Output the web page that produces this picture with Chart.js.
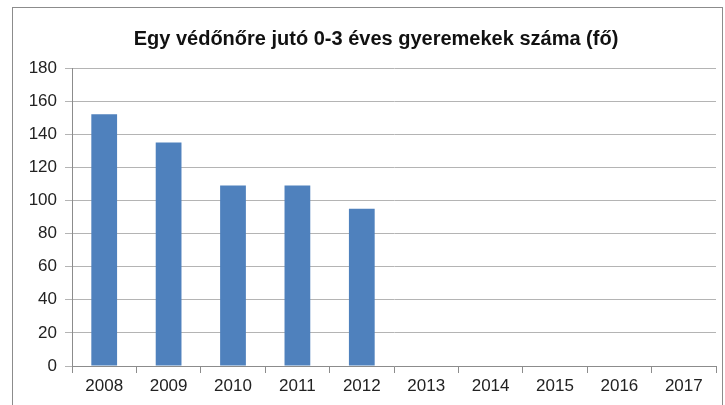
<!DOCTYPE html>
<html>
<head>
<meta charset="utf-8">
<script src="https://cdn.jsdelivr.net/npm/chart.js@4"></script>
<style>
  body { margin: 0; background: #fff; }
  #wrap { position: relative; width: 725px; height: 405px; }
  #frame { position: absolute; left: 12px; top: 7px; width: 709px; height: 410px;
           border: 1px solid #8c8c8c; pointer-events: none; }
</style>
</head>
<body>
<div id="wrap">
  <canvas id="chart" width="725" height="405"></canvas>
  <div id="frame"></div>
</div>
<script>
// data
const years = ["2008", "2009", "2010", "2011", "2012", "2013", "2014", "2015", "2016", "2017"];
const childrenPerNurse = [152, 135, 109, 109, 95, null, null, null, null, null];
const chartTitle = "Egy védőnőre jutó 0-3 éves gyeremekek száma (fő)";

// title sits a bit right of the canvas centre in the original
const shiftTitle = {
  id: "shiftTitle",
  afterLayout(chart) {
    if (chart.titleBlock) chart.titleBlock.left = 36;
  }
};

const ctx = document.getElementById("chart").getContext("2d");
new Chart(ctx, {
  type: "bar",
  data: {
    labels: years,
    datasets: [{
      data: childrenPerNurse,
      backgroundColor: "#4f81bd",
      barPercentage: 0.4,
      categoryPercentage: 1
    }]
  },
  options: {
    responsive: false,
    animation: false,
    layout: { padding: { left: 0, right: 9, top: 0, bottom: 0 } },
    plugins: {
      legend: { display: false },
      tooltip: { enabled: false },
      title: {
        display: true,
        text: chartTitle,
        color: "#111",
        font: { family: "Liberation Sans", size: 20, weight: "bold", lineHeight: 1.2 },
        padding: { top: 27, bottom: 17 }
      }
    },
    scales: {
      x: {
        grid: { drawOnChartArea: false, drawTicks: true, tickLength: 7, color: "#8c8c8c", offset: true },
        border: { color: "#8c8c8c" },
        ticks: { color: "#222", font: { family: "Liberation Sans", size: 17 }, padding: 3 },
        afterFit: s => { s.height = 39; }
      },
      y: {
        min: 0, max: 180,
        ticks: { stepSize: 20, color: "#222", font: { family: "Liberation Sans", size: 17 }, padding: 8 },
        grid: { color: "#b4b4b4", tickLength: 7 },
        border: { color: "#8c8c8c" },
        afterFit: s => { s.width = 72; }
      }
    }
  },
  plugins: [shiftTitle]
});
</script>
</body>
</html>
